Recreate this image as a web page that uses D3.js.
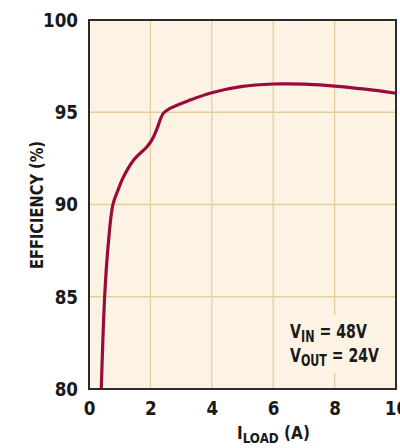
<!DOCTYPE html>
<html><head><meta charset="utf-8">
<script src="https://cdn.jsdelivr.net/npm/d3@7"></script>
<style>
html,body{margin:0;padding:0;background:#fff;overflow:hidden;}
text{font-family:"DejaVu Sans","Liberation Sans",sans-serif;font-weight:bold;fill:#1a1a1a;}
</style></head>
<body>
<svg id="c" width="400" height="448"></svg>
<script>
const loadA = [0.40, 0.51, 0.62, 0.78, 0.95, 1.08, 1.45, 1.89, 2.05, 2.2, 2.42, 2.64, 3.29, 4.0, 5.0, 6.0, 6.5, 7.0, 8.0, 9.0, 10.0];
const efficiency = [80, 85, 87.7, 90, 90.8, 91.35, 92.4, 93.13, 93.5, 94.04, 94.94, 95.21, 95.66, 96.06, 96.4, 96.53, 96.54, 96.52, 96.42, 96.25, 96.03];
const xTicks = [0, 2, 4, 6, 8, 10];
const yTicks = [80, 85, 90, 95, 100];
const annotLines = [["V", "IN", " = 48V"], ["V", "OUT", " = 24V"]];

const svg = d3.select("#c");
const L = 89, R = 396, T = 20, B = 389;
const x = d3.scaleLinear().domain([0, 10]).range([L, R]);
const y = d3.scaleLinear().domain([80, 100]).range([B, T]);
const SQ = 0.84;

svg.append("rect").attr("x", L).attr("y", T).attr("width", R - L).attr("height", B - T).attr("fill", "#fdf3e4");

// grid
svg.append("g").selectAll("line").data(xTicks.slice(1, -1)).join("line")
  .attr("x1", d => x(d)).attr("x2", d => x(d)).attr("y1", T).attr("y2", B)
  .attr("stroke", "#e6cf9f").attr("stroke-width", 1.3);
svg.append("g").selectAll("line").data(yTicks.slice(1, -1)).join("line")
  .attr("y1", d => y(d)).attr("y2", d => y(d)).attr("x1", L).attr("x2", R)
  .attr("stroke", "#e6cf9f").attr("stroke-width", 1.3);

// annotation background
svg.append("rect").attr("x", 284).attr("y", 315).attr("width", 104).attr("height", 58).attr("fill", "#fdf3e4");

// curve
const line = d3.line().x((d, i) => x(loadA[i])).y(d => y(d)).curve(d3.curveCatmullRom.alpha(0.5));
svg.append("path").attr("d", line(efficiency)).attr("fill", "none")
  .attr("stroke", "#980b3b").attr("stroke-width", 3.2).attr("stroke-linejoin", "round");

// frame
svg.append("rect").attr("x", L).attr("y", T).attr("width", R - L).attr("height", B - T)
  .attr("fill", "none").attr("stroke", "#2b2b2b").attr("stroke-width", 2);

// axes
const xAxis = d3.axisBottom(x).tickValues(xTicks).tickSize(0).tickPadding(12);
const gx = svg.append("g").attr("transform", `translate(0,${B})`).call(xAxis);
gx.select(".domain").remove();
gx.selectAll("text").style("font-size", "20px").attr("fill", "#1a1a1a")
  .attr("transform", `scale(${SQ},1)`);

const yAxis = d3.axisLeft(y).tickValues(yTicks).tickSize(0).tickPadding(11);
const gy = svg.append("g").attr("transform", `translate(${L},0)`).call(yAxis);
gy.select(".domain").remove();
gy.selectAll("text").style("font-size", "20px").attr("fill", "#1a1a1a")
  .attr("x", -11 / SQ).attr("transform", `scale(${SQ},1)`);

// y label
svg.append("text").attr("transform", "translate(43,205) rotate(-90)")
  .attr("text-anchor", "middle").style("font-size", "18px").text("EFFICIENCY (%)")
  .attr("textLength", 128).attr("lengthAdjust", "spacingAndGlyphs");

// x label
const xg = svg.append("g");
const xl = xg.append("text").attr("x", 0).attr("y", 0).style("font-size", "18px");
xl.append("tspan").text("I");
xl.append("tspan").attr("dy", 4).style("font-size", "14px").text("LOAD");
xl.append("tspan").attr("dy", -4).text(" (A)");
const xlw = xl.node().getComputedTextLength();
xg.attr("transform", `translate(237,439) scale(${73 / xlw},1)`);

// annotation
const annotW = [77, 89];
annotLines.forEach((a, i) => {
  const g = svg.append("g");
  const t = g.append("text").attr("x", 0).attr("y", 0).style("font-size", "19px");
  t.append("tspan").text(a[0]);
  t.append("tspan").attr("dy", 4).style("font-size", "15px").text(a[1]);
  t.append("tspan").attr("dy", -4).text(a[2]);
  const w = t.node().getComputedTextLength();
  g.attr("transform", `translate(290,${338 + i * 24}) scale(${annotW[i] / w},1)`);
});
</script>
</body></html>
